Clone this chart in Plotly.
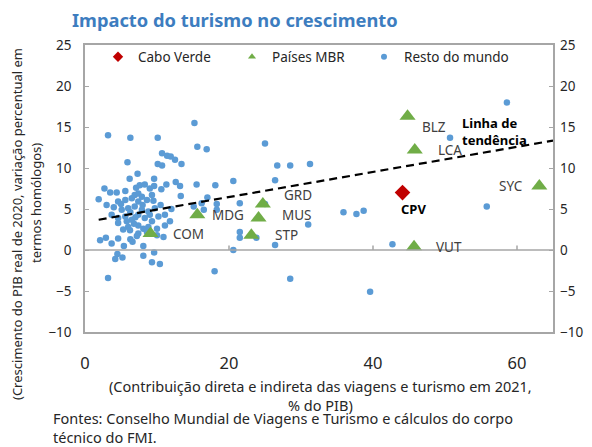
import plotly.graph_objects as go

title_text = "Impacto do turismo no crescimento"
x_title_lines = ["(Contribuição direta e indireta das viagens e turismo em 2021,", "% do PIB)"]
y_title_lines = ["(Crescimento do PIB real de 2020, variação percentual em", "termos homólogos)"]
footer_lines = ["Fontes: Conselho Mundial de Viagens e Turismo e cálculos do corpo", "técnico do FMI."]

legend_names = ["Cabo Verde", "Países MBR", "Resto do mundo"]

# Resto do mundo
rest_x = [3.2, 6.3, 10.1, 15.2, 15.6, 16.9,
          10.7, 11.4, 11.9, 12.5, 13.4, 10.1, 10.7, 5.9,
          7.3, 6.2, 9.6,
          2.7, 3.5, 4.4, 5.6, 7.1, 7.6, 8.3, 9.0, 9.6, 10.6, 11.3, 12.6, 13.2, 15.5, 18.1, 20.6,
          1.9, 13.3, 17.0, 18.3, 21.5, 16.5, 15.1, 16.2, 18.3,
          4.6, 5.6, 6.5, 7.4, 8.6, 9.5, 6.9, 7.4, 7.9, 9.3,
          5.1, 6.0, 6.9, 7.9, 8.8, 9.7,
          3.7, 4.6, 5.6, 6.5, 7.4, 8.3, 9.3, 10.2, 11.1,
          4.6, 6.0, 7.4, 8.8, 10.0, 11.1, 11.8,
          6.25, 7.4, 8.1, 8.6,
          2.1, 2.9, 3.7, 4.6, 5.4, 6.3, 6.6, 7.2, 8.1, 10.0, 10.9,
          20.6, 21.5, 21.5,
          4.5, 4.2, 5.2, 8.1, 9.6, 9.3, 10.4, 3.2, 18.0,
          5.0, 6.3, 7.0, 8.0, 5.3, 9.0, 6.8, 4.0, 10.5, 12.0, 3.0, 5.8,
          25.0, 26.7, 28.5, 31.25, 26.4, 25.0, 31.0, 23.8, 26.4, 28.5,
          35.9, 37.7, 38.7, 42.7, 39.6,
          58.6, 50.7, 55.8]
rest_y = [14.0, 13.7, 13.7, 15.5, 12.6, 12.3,
          11.8, 11.5, 11.4, 11.0, 10.5, 10.5, 10.3, 10.7,
          9.3, 8.7, 8.7,
          7.5, 7.0, 7.0, 7.2, 7.6, 7.9, 8.0, 7.5, 7.8, 7.4, 8.0, 8.3, 7.8, 8.0, 7.9, 8.4,
          6.2, 6.6, 6.4, 5.6, 5.7, 4.9, 5.3, 5.7, 4.9,
          5.9, 6.1, 6.3, 5.9, 6.1, 6.0, 6.7, 6.9, 6.5, 6.7,
          4.9, 5.1, 5.3, 4.9, 4.7, 5.1,
          4.3, 3.9, 4.1, 3.7, 4.3, 3.9, 3.5, 4.1, 4.3,
          3.3, 2.8, 3.0, 2.8, 2.6, 3.0, 3.5,
          2.4, 2.0, 2.6, 2.2,
          1.2, 1.5, 0.8, 1.4, 0.5, 1.3, 1.0, 1.7, 0.5, 1.8, 1.6,
          0.0, 2.2, 1.5,
          -0.5, -1.1, -0.9, -0.7, -0.3, -1.5, -1.7, -3.4, -2.6,
          5.6, 4.6, 4.0, 5.5, 2.5, 4.3, 3.2, 5.2, 5.5, 5.0, 5.5, 3.5,
          13.0, 10.3, 10.3, 10.5, 8.5, 5.6, 3.1, 1.5, 0.6, -3.5,
          4.6, 4.4, 4.8, 0.7, -5.1,
          18.0, 13.7, 5.3]

# Países MBR
mbr_codes = ["BLZ", "LCA", "SYC", "VUT", "GRD", "MUS", "STP", "MDG", "COM"]
mbr_x = [44.8, 45.8, 63.1, 45.7, 24.7, 24.1, 23.1, 15.6, 9.1]
mbr_y = [16.3, 12.2, 7.8, 0.4, 5.6, 3.9, 1.8, 4.3, 2.0]

# Cabo Verde
cpv_code = "CPV"
cpv_x = [44.1]
cpv_y = [7.0]

# Linha de tendência
trend_label = "Linha de<br>tendência"
trend_intercept = 3.4
trend_slope = 0.153
trend_x = [1.9, 65.0]
trend_label_pos = (52.1, 14.5)

x_range = [0, 65]
y_range = [-10, 25]
x_ticks = [0, 20, 40, 60]
y_ticks = [-10, -5, 0, 5, 10, 15, 20, 25]

# label placement (style): xanchor, xshift, yshift in pixels
label_style = {
    "BLZ": ("left", 12, -11), "LCA": ("left", 21, 0), "SYC": ("right", -14, 0),
    "VUT": ("left", 20, 0), "GRD": ("left", 19, 9), "MUS": ("left", 21, 3),
    "STP": ("left", 22, 0), "MDG": ("left", 13, 0), "COM": ("left", 20, 0),
}

FONT = "Noto Sans"
BLUE = "#5b9bd5"
GREEN = "#70ad47"
RED = "#c00000"
FRAME = "#a6a6a6"
TXT = "#262626"

# page body has an 8px margin: figure is 8px smaller, plot area stays at the same screen place
W, H = 584, 439
ML, MT, PW, PH = 77, 37, 468, 287
PLOT_L, PLOT_T = 85, 45          # screen position of the plot area
PLOT_B = PLOT_T + PH


def sx(px):  # screen px -> shift from plot left
    return px - PLOT_L


def sy(py):  # screen py -> paper y fraction
    return (PLOT_B - py) / PH


fig = go.Figure()

fig.add_trace(go.Scatter(x=rest_x, y=rest_y, mode="markers", name=legend_names[2],
                         marker=dict(color=BLUE, size=6.5), showlegend=False))
trend_y = [trend_intercept + trend_slope * v for v in trend_x]
fig.add_trace(go.Scatter(x=trend_x, y=trend_y, mode="lines", showlegend=False,
                         line=dict(color="black", width=2.2, dash="8px,5px"), hoverinfo="skip"))
fig.add_trace(go.Scatter(x=mbr_x, y=mbr_y, mode="markers", name=legend_names[1], text=mbr_codes,
                         marker=dict(color=GREEN, size=14, symbol="triangle-up"), showlegend=False))
fig.add_trace(go.Scatter(x=cpv_x, y=cpv_y, mode="markers", name=legend_names[0],
                         marker=dict(color=RED, size=12, symbol="diamond"), showlegend=False))

# legend entries (small symbols as in the reference), one legend box per entry
legend_ids = ["legend", "legend2", "legend3"]
for nm, col, sym, sz, lid in zip(legend_names, [RED, GREEN, BLUE], ["diamond", "triangle-up", "circle"],
                                 [8, 7, 6], legend_ids):
    fig.add_trace(go.Scatter(x=[None], y=[None], mode="markers", name=nm, legend=lid,
                             marker=dict(color=col, size=sz, symbol=sym), showlegend=True))

# right axis companion
fig.add_trace(go.Scatter(x=[None], y=[None], yaxis="y2", showlegend=False, hoverinfo="skip"))

ann = []
for code, xv, yv in zip(mbr_codes, mbr_x, mbr_y):
    xa, xs, ys = label_style[code]
    ann.append(dict(x=xv, y=yv, text=code, showarrow=False, xanchor=xa, yanchor="middle",
                    xshift=xs, yshift=ys, font=dict(family=FONT, size=13.5, color="#404040")))
ann.append(dict(x=cpv_x[0], y=cpv_y[0], text="<b>" + cpv_code + "</b>", showarrow=False, xanchor="left",
                xshift=-4, yshift=-16, font=dict(family=FONT, size=13, color="black")))
ann.append(dict(x=trend_label_pos[0], y=trend_label_pos[1], text="<b>" + trend_label + "</b>", showarrow=False,
                xanchor="left", yanchor="middle", align="left",
                font=dict(family=FONT, size=13, color="black")))

# y title (two lines)
for txt, cx, cy in [(y_title_lines[0], 17, 224), (y_title_lines[1], 36, 203)]:
    ann.append(dict(xref="paper", yref="paper", x=0, xshift=sx(cx), y=sy(cy), xanchor="center",
                    yanchor="middle", text=txt, textangle=-90, showarrow=False,
                    font=dict(family=FONT, size=13, color=TXT)))
# x title
ann.append(dict(xref="paper", yref="paper", x=sx(320) / PW, y=sy(395), yanchor="middle",
                text="<br>".join(x_title_lines), showarrow=False,
                font=dict(family=FONT, size=14.5, color=TXT)))
# footer
ann.append(dict(xref="paper", yref="paper", x=0, xshift=sx(51), xanchor="left", y=sy(427),
                yanchor="middle", align="left", text="<br>".join(footer_lines), showarrow=False,
                font=dict(family=FONT, size=14.5, color=TXT)))
# title
ann.append(dict(xref="paper", yref="paper", x=0, xshift=sx(70), xanchor="left", y=sy(19), yanchor="middle",
                text="<b>" + title_text + "</b>", showarrow=False,
                font=dict(family=FONT, size=18.3, color="#3d7dbf")))

shapes = [dict(type="line", xref="x", yref="y", x0=x_range[0], x1=x_range[1], y0=0, y1=0,
               line=dict(color=FRAME, width=1.5))]
for t in x_ticks[1:]:
    shapes.append(dict(type="line", xref="x", yref="y", x0=t, x1=t, y0=0, y1=0.55,
                       line=dict(color=FRAME, width=1.5)))


def legend_box(symbol_px):
    return dict(orientation="h", x=sx(symbol_px - 20) / PW, y=sy(57), xanchor="left", yanchor="middle",
                font=dict(family=FONT, size=13.5, color=TXT), bgcolor="rgba(0,0,0,0)",
                itemwidth=30)


fig.update_layout(
    width=W, height=H,
    margin=dict(l=ML, r=W - ML - PW, t=MT, b=H - MT - PH, autoexpand=False),
    paper_bgcolor="white", plot_bgcolor="white",
    font=dict(family=FONT, color=TXT),
    showlegend=True,
    legend=legend_box(118),
    legend2=legend_box(252),
    legend3=legend_box(384),
    xaxis=dict(range=x_range, tickvals=x_ticks, showgrid=False, zeroline=False,
               showline=True, mirror=True, linecolor=FRAME, linewidth=1.5,
               ticks="outside", ticklen=15, tickcolor="rgba(0,0,0,0)",
               tickfont=dict(family=FONT, size=16.5, color=TXT)),
    yaxis=dict(range=y_range, tickvals=y_ticks, showgrid=False, zeroline=False,
               showline=True, mirror=True, linecolor=FRAME, linewidth=1.5,
               ticks="inside", ticklen=4, tickcolor=FRAME, ticklabelstandoff=9,
               tickfont=dict(family=FONT, size=13.5, color=TXT)),
    yaxis2=dict(range=y_range, tickvals=y_ticks, overlaying="y", side="right", showgrid=False,
                zeroline=False, showline=False, ticks="inside", ticklen=4, tickcolor=FRAME,
                ticklabelstandoff=6, tickfont=dict(family=FONT, size=13.5, color=TXT)),
    annotations=ann, shapes=shapes,
)

fig.write_html("out.html")
